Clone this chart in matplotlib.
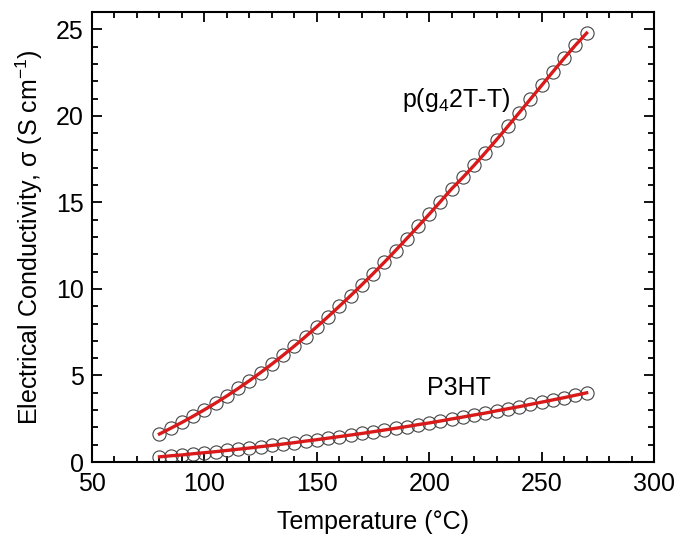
import matplotlib
matplotlib.use("Agg")
from matplotlib import pyplot as plt
from matplotlib.ticker import MultipleLocator

plt.rcParams['font.family'] = ['Liberation Sans', 'DejaVu Sans']
plt.rcParams['mathtext.fontset'] = 'custom'
plt.rcParams['mathtext.rm'] = 'Liberation Sans'

temperatura = list(range(80, 271, 5))

# p(g4 2T-T)
sigma_pg42t = [1.62, 1.95, 2.29, 2.65, 3.02, 3.41, 3.82, 4.25, 4.70, 5.17,
               5.66, 6.17, 6.70, 7.25, 7.82, 8.40, 9.00, 9.61, 10.24, 10.88,
               11.54, 12.22, 12.91, 13.61, 14.32, 15.05, 15.79, 16.45, 17.15, 17.88,
               18.63, 19.40, 20.18, 20.97, 21.76, 22.55, 23.33, 24.08, 24.78]

# P3HT
sigma_p3ht = [0.30, 0.36, 0.41, 0.48, 0.54, 0.60, 0.67, 0.74, 0.81, 0.89,
              0.96, 1.04, 1.12, 1.21, 1.29, 1.38, 1.47, 1.56, 1.65, 1.75,
              1.85, 1.95, 2.05, 2.16, 2.26, 2.37, 2.49, 2.60, 2.72, 2.83,
              2.96, 3.08, 3.20, 3.33, 3.46, 3.59, 3.72, 3.86, 4.00]

fig = plt.figure(figsize=(6.75, 5.36), dpi=100)
ax = fig.add_axes([0.1363, 0.138, 0.8327, 0.8396])

for serie in (sigma_pg42t, sigma_p3ht):
    ax.plot(temperatura, serie, 'o', mfc='none', mec='#444444', mew=0.8, ms=9.5, zorder=2)
    ax.plot(temperatura, serie, '-', color='#d91a1a', lw=2.4, zorder=3)

ax.text(212, 20.9, r'p(g$_4$2T-T)', fontsize=18, ha='center', va='center')
ax.text(213, 4.3, 'P3HT', fontsize=18, ha='center', va='center')

ax.set_xlim(50, 300)
ax.set_ylim(0, 26)
ax.xaxis.set_major_locator(MultipleLocator(50))
ax.xaxis.set_minor_locator(MultipleLocator(10))
ax.yaxis.set_major_locator(MultipleLocator(5))
ax.yaxis.set_minor_locator(MultipleLocator(1))
ax.tick_params(which='both', direction='in', top=True, right=True, width=1.3, labelsize=18)
ax.tick_params(which='major', length=7)
ax.tick_params(which='minor', length=4)
ax.tick_params(axis='x', pad=7)
ax.tick_params(axis='y', pad=6)
for s in ax.spines.values():
    s.set_linewidth(1.5)

ax.set_xlabel('Temperature (\u00b0C)', fontsize=18, labelpad=10)
ax.set_ylabel('Electrical Conductivity, \u03c3 (S cm$^{-1}$)', fontsize=18, labelpad=8)

fig.savefig('out.png', dpi=100)
